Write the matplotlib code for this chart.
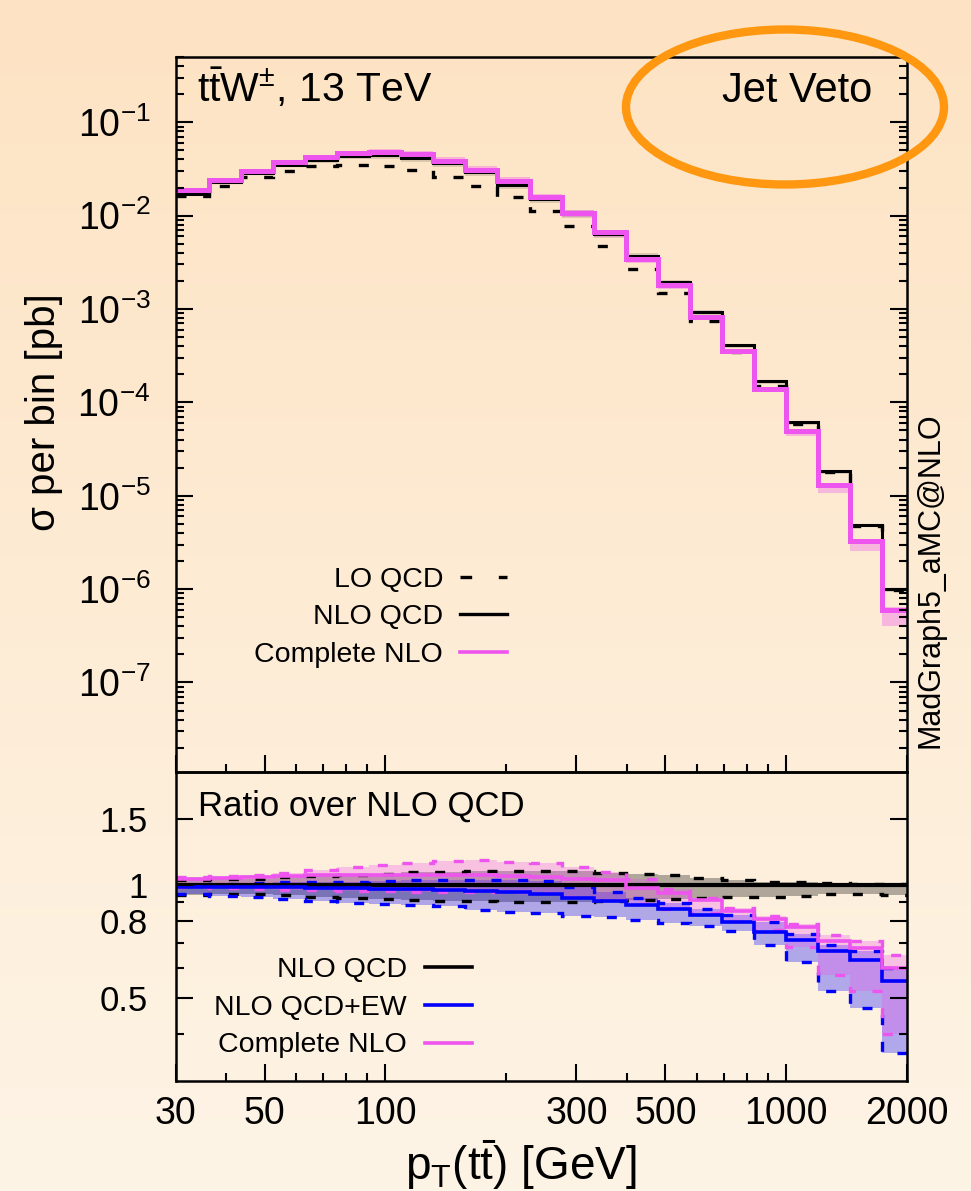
import numpy as np
import matplotlib
matplotlib.use('Agg')
import matplotlib.pyplot as plt
from matplotlib.patches import Ellipse
from matplotlib.lines import Line2D
from matplotlib.ticker import FixedLocator, FixedFormatter, NullFormatter, LogLocator

plt.rcParams['font.family'] = ['Liberation Sans', 'DejaVu Sans']
plt.rcParams['mathtext.fontset'] = 'custom'
plt.rcParams['mathtext.rm'] = 'Liberation Sans'
plt.rcParams['mathtext.it'] = 'Liberation Sans'
plt.rcParams['mathtext.bf'] = 'Liberation Sans:bold'

# bin edges, pT(tt) [GeV]
pt_edges = [30, 36.3, 43.7, 52.5, 63.1, 75.9, 91.2, 109.6, 131.8, 158.5, 190.5,
            229.1, 275.4, 331.1, 398.1, 478.6, 575.4, 691.8, 831.8, 1000, 1202,
            1445, 1738, 2089]

# sigma per bin [pb]
lo_qcd = [0.0161, 0.0210, 0.0258, 0.0304, 0.0338, 0.0346, 0.0338, 0.0311, 0.0262,
          0.0210, 0.0157, 0.0111, 0.00769, 0.00469, 0.00271, 0.00149, 7.5e-4,
          3.49e-4, 1.48e-4, 5.9e-5, 1.81e-5, 4.8e-6, 9.8e-7]
nlo_qcd = [0.0171, 0.0228, 0.0287, 0.0350, 0.0398, 0.0440, 0.0443, 0.0416, 0.0367,
           0.0294, 0.0215, 0.0151, 0.0105, 0.00634, 0.00373, 0.00195, 9.3e-4,
           4.08e-4, 1.68e-4, 6.1e-5, 1.82e-5, 4.9e-6, 1.0e-6]
complete_nlo = [0.0187, 0.0243, 0.0304, 0.0373, 0.0422, 0.0470, 0.0482, 0.0459,
                0.0389, 0.0311, 0.0237, 0.0157, 0.0108, 0.00663, 0.00344, 0.00182,
                8.3e-4, 3.52e-4, 1.39e-4, 4.9e-5, 1.31e-5, 3.3e-6, 6.0e-7]

# ratio over NLO QCD
r_nlo_up = [1.03, 1.035, 1.04, 1.05, 1.059, 1.062, 1.07, 1.08, 1.083, 1.09, 1.092,
            1.092, 1.092, 1.075, 1.07, 1.06, 1.045, 1.028, 1.018, 1.016, 1.01, 1.007, 1.007]
r_nlo_dn = [0.942, 0.948, 0.947, 0.938, 0.928, 0.922, 0.915, 0.91, 0.906, 0.904, 0.9,
            0.899, 0.899, 0.908, 0.91, 0.917, 0.922, 0.927, 0.931, 0.936, 0.946, 0.943, 0.941]
r_ew = [0.99, 0.99, 0.988, 0.985, 0.982, 0.98, 0.977, 0.973, 0.97, 0.965, 0.96, 0.945,
        0.925, 0.905, 0.885, 0.86, 0.83, 0.795, 0.75, 0.715, 0.665, 0.63, 0.555]
r_ew_up = [1.0, 1.005, 1.01, 1.015, 1.016, 1.02, 1.025, 1.03, 1.033, 1.033, 1.033,
           1.025, 0.99, 0.955, 0.925, 0.895, 0.865, 0.83, 0.795, 0.74, 0.69, 0.665, 0.60]
r_ew_dn = [0.944, 0.934, 0.931, 0.915, 0.908, 0.897, 0.889, 0.884, 0.876, 0.857,
           0.849, 0.84, 0.828, 0.823, 0.806, 0.789, 0.778, 0.755, 0.691, 0.621, 0.522,
           0.471, 0.357]
r_cnlo = [1.04, 1.045, 1.05, 1.055, 1.06, 1.063, 1.065, 1.065, 1.065, 1.06, 1.055,
          1.05, 1.04, 1.03, 0.98, 0.95, 0.91, 0.85, 0.81, 0.77, 0.71, 0.68, 0.60]
r_cnlo_up = [1.05, 1.059, 1.063, 1.074, 1.094, 1.119, 1.133, 1.147, 1.157, 1.166,
             1.15, 1.143, 1.118, 1.08, 1.04, 0.975, 0.925, 0.87, 0.825, 0.785, 0.735,
             0.71, 0.65]
r_cnlo_dn = [0.985, 0.98, 0.975, 0.97, 0.967, 0.965, 0.963, 0.96, 0.96, 0.958, 0.955,
             0.95, 0.93, 0.91, 0.89, 0.865, 0.84, 0.80, 0.756, 0.685, 0.575, 0.522, 0.40]

magenta = '#ee55ee'
dash = (0, (3, 5))

W, H = 971, 1191
fig = plt.figure(figsize=(W / 100, H / 100), dpi=100)


def fx(x):
    return x / W


def fy(y):
    return 1 - y / H


# background gradient
bg = fig.add_axes([0, 0, 1, 1], zorder=-5)
top = np.array([253, 227, 195]) / 255
bot = np.array([254, 244, 230]) / 255
t = np.linspace(0, 1, 256)[:, None]
grad = (top[None, :] * (1 - t) + bot[None, :] * t)[:, None, :]
bg.imshow(grad, aspect='auto', extent=[0, 1, 0, 1])
bg.axis('off')

ax1 = fig.add_axes([fx(175.7), fy(772), fx(906.7) - fx(175.7), fy(57) - fy(772)])
ax2 = fig.add_axes([fx(175.7), fy(1081), fx(906.7) - fx(175.7), fy(772) - fy(1081)])

# ---- main panel
e = np.array(pt_edges)
cn = np.array(complete_nlo)
nl = np.array(nlo_qcd)
ax1.stairs(nl * np.array(r_nlo_up), e, baseline=nl * np.array(r_nlo_dn), fill=True,
           color='black', alpha=0.12, lw=0)
ax1.stairs(cn * np.array(r_cnlo_up) / np.array(r_cnlo), e,
           baseline=cn * np.array(r_cnlo_dn) / np.array(r_cnlo), fill=True,
           color=magenta, alpha=0.35, lw=0)
ax1.stairs(lo_qcd, e, baseline=None, color='black', lw=2.4, linestyle=dash)
ax1.stairs(nlo_qcd, e, baseline=None, color='black', lw=2.2)
ax1.stairs(complete_nlo, e, baseline=None, color=magenta, lw=3.6)

# ---- ratio panel
ax2.stairs(r_nlo_up, e, baseline=r_nlo_dn, fill=True, color='black', alpha=0.3, lw=0)
ax2.stairs(r_ew_up, e, baseline=r_ew_dn, fill=True, color='blue', alpha=0.3, lw=0)
ax2.stairs(r_cnlo_up, e, baseline=r_cnlo_dn, fill=True, color=magenta, alpha=0.3, lw=0)
for up, dn, c in [(r_nlo_up, r_nlo_dn, 'black'), (r_ew_up, r_ew_dn, 'blue'),
                  (r_cnlo_up, r_cnlo_dn, magenta)]:
    ax2.stairs(up, e, baseline=None, color=c, lw=2.4, linestyle=dash)
    ax2.stairs(dn, e, baseline=None, color=c, lw=2.4, linestyle=dash)
ax2.stairs(np.ones(len(r_ew)), e, baseline=None, color='black', lw=3.0)
ax2.stairs(r_ew, e, baseline=None, color='blue', lw=2.6)
ax2.stairs(r_cnlo, e, baseline=None, color=magenta, lw=2.6)

# ---- axes styling
xmaj = [30, 50, 100, 300, 500, 1000, 2000]
xmin = [40, 60, 70, 80, 90, 200, 400, 600, 700, 800, 900]
for ax in (ax1, ax2):
    ax.set_facecolor('none')
    ax.set_xscale('log')
    ax.set_xlim(30, 2000)
    ax.xaxis.set_major_locator(FixedLocator(xmaj))
    ax.xaxis.set_minor_locator(FixedLocator(xmin))
    ax.xaxis.set_minor_formatter(NullFormatter())
    for s in ax.spines.values():
        s.set_linewidth(1.8)
    ax.tick_params(which='both', direction='in', left=True, right=True, top=False,
                   bottom=True, width=1.5, labelsize=27)
    ax.tick_params(which='major', length=12)
    ax.tick_params(which='minor', length=6)

ax1.set_yscale('log')
ax1.set_ylim(1.1e-8, 0.5)
ax1.yaxis.set_major_locator(LogLocator(base=10, numticks=20))
ax1.yaxis.set_minor_locator(LogLocator(base=10, subs=np.arange(2, 10), numticks=20))
ax1.yaxis.set_minor_formatter(NullFormatter())
ax1.tick_params(axis='x', labelbottom=False)
ax1.tick_params(axis='y', pad=18)

ax2.xaxis.set_major_formatter(FixedFormatter([str(v) for v in xmaj]))
ax2.tick_params(axis='x', pad=11)
ax2.set_yscale('log')
ax2.set_ylim(0.3, 2.0)
ax2.yaxis.set_major_locator(FixedLocator([0.5, 0.8, 1, 1.5]))
ax2.yaxis.set_major_formatter(FixedFormatter(['0.5', '0.8', '1', '1.5']))
ax2.yaxis.set_minor_locator(FixedLocator([0.4, 0.6, 0.7, 0.9]))
ax2.yaxis.set_minor_formatter(NullFormatter())
ax2.tick_params(axis='y', pad=20, labelsize=25)

# ---- texts
fig.text(fx(197), fy(101.7), r'$\mathrm{t\bar{t}W^{\pm}}$, 13 TeV', fontsize=29.5, va='baseline')
fig.text(fx(872), fy(101.7), 'Jet Veto', fontsize=30, ha='right', va='baseline')
fig.text(fx(198), fy(816), 'Ratio over NLO QCD', fontsize=25, va='baseline')
fig.text(fx(930), fy(580), 'MadGraph5_aMC@NLO', fontsize=22, rotation=90,
         ha='center', va='center')
fig.text(fx(44), fy(412), 'σ per bin [pb]', fontsize=29, rotation=90,
         ha='center', va='center')
fig.text(fx(521), fy(1180), r'$\mathrm{p_T(t\bar{t})}$ [GeV]', fontsize=33,
         ha='center', va='baseline')


def legend_rows(rows, x_text, x0, x1, ys):
    for (label, color, ls, lw), y in zip(rows, ys):
        fig.text(fx(x_text), fy(y + 10), label, fontsize=20.5, ha='right', va='baseline')
        fig.add_artist(Line2D([fx(x0), fx(x1)], [fy(y), fy(y)], color=color,
                              linestyle=ls, lw=lw, transform=fig.transFigure))


legend_rows([('LO QCD', 'black', (0, (3.5, 8)), 2.4),
             ('NLO QCD', 'black', '-', 2.4),
             ('Complete NLO', magenta, '-', 2.6)],
            443, 460, 507, [577, 614, 651.5])
legend_rows([('NLO QCD', 'black', '-', 2.6),
             ('NLO QCD+EW', 'blue', '-', 2.6),
             ('Complete NLO', magenta, '-', 2.6)],
            407, 425, 472, [967, 1005, 1042.5])

# hand-drawn orange ring round the label
fig.add_artist(Ellipse((fx(785), fy(107)), fx(318), 155 / H, fill=False,
                       ec='#ff9710', lw=6, transform=fig.transFigure))

fig.savefig('out.png', dpi=100)
